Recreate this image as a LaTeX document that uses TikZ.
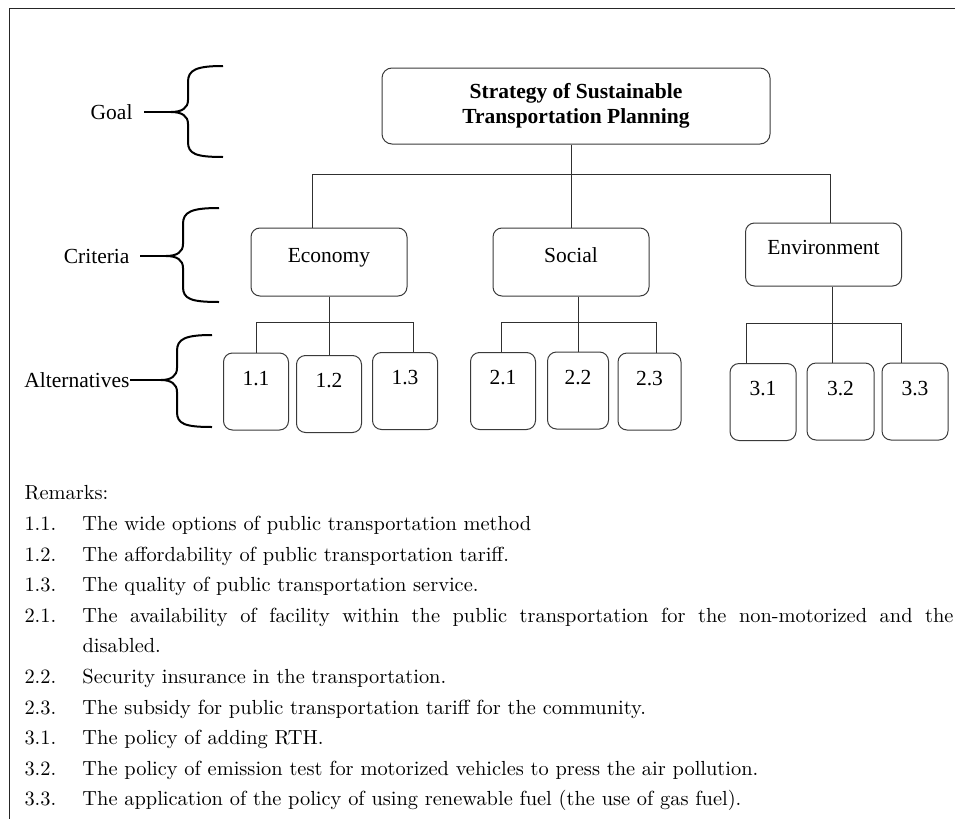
\documentclass[tikz,border=0pt]{standalone}
\usepackage{fontspec}
\newfontfamily\labelfont{Liberation Serif}
\newfontfamily\remarkfont{lmroman10-regular.otf}
\usetikzlibrary{positioning}
\definecolor{cline}{HTML}{303030}
\definecolor{cbox}{HTML}{3A3A3A}
\tikzset{
  every picture/.style={x=1pt, y=-1pt, line width=1pt},
  goalbox/.style={draw=cbox, rounded corners=10pt, align=center, minimum width=388pt, minimum height=76pt, font=\labelfont\bfseries\fontsize{21.5}{25}\selectfont},
  critbox/.style={draw=cbox, rounded corners=9pt, minimum width=156pt, minimum height=#1, text height=14pt, text depth=14pt, font=\labelfont\fontsize{21.5}{25}\selectfont},
  critbox/.default=68pt,
  altbox/.style={draw=cbox, rounded corners=9pt, inner sep=0pt, minimum width=65pt, minimum height=77pt, text height=14pt, text depth=27pt, font=\labelfont\fontsize{21.5}{25}\selectfont},
  level/.style={anchor=east, inner sep=0pt, font=\labelfont\fontsize{21.5}{25}\selectfont},
  link/.style={draw=cline, line width=1pt},
  pointer/.style={draw=black, line width=1.8pt},
  brace/.style={draw=black, line width=2pt},
  frame/.style={draw=black!85, line width=1.5pt},
  remark/.style={anchor=north west, inner sep=0pt, font=\remarkfont\fontsize{20.4}{30.6}\selectfont},
}

\begin{document}
\begin{tikzpicture}
  \useasboundingbox (0,0) rectangle (955,819);
  \draw[frame] (955,8.7) -- (9.5,8.7) -- (9.5,819);
  % levels on the left
  \node[level] (lgoal) at (133,112) {Goal};
  \node[level] (lcrit) at (130,256) {Criteria};
  \node[level] (lalt) at (130,380) {Alternatives};
  \coordinate (goaltip) at (171,112);
  \coordinate (crittip) at (166,256);
  \coordinate (alttip) at (161,380);
  \draw[pointer, shorten <=11pt] (lgoal.east) -- (goaltip);
  \draw[pointer, shorten <=10pt] (lcrit.east) -- (crittip);
  \draw[pointer] (lalt.east) -- (alttip);
  \draw[brace] (223,66) .. controls (196,66) and (188,70) .. (188,82) -- (188,100) .. controls (188,108) and (182,112) .. (goaltip) .. controls (182,112) and (188,116) .. (188,124) -- (188,142) .. controls (188,154) and (196,157) .. (223,157);
  \draw[brace] (219,208) .. controls (191,208) and (183,212) .. (183,224) -- (183,244) .. controls (183,252) and (177,256) .. (crittip) .. controls (177,256) and (183,260) .. (183,268) -- (183,287) .. controls (183,299) and (191,302) .. (219,302);
  \draw[brace] (212,335) .. controls (185,335) and (177,339) .. (177,351) -- (177,368) .. controls (177,376) and (171,380) .. (alttip) .. controls (171,380) and (177,384) .. (177,392) -- (177,412) .. controls (177,424) and (185,427) .. (212,427);
  % goal and criteria
  \node[goalbox] (goal) at (576,106) {Strategy of Sustainable\\Transportation Planning};
  \node[critbox] (eco) at (329,262) {Economy};
  \node[critbox] (soc) at (571,262) {Social};
  \node[critbox=63pt] (env) at (823.5,254.5) {Environment};
  \draw[link] ([xshift=-5pt]goal.south) -- ++(0,30) coordinate (topbar);
  \draw[link] ([xshift=-17pt]eco.north) |- (topbar) -| ([xshift=6.5pt]env.north);
  \draw[link] (topbar) -- (soc.north);
  % alternatives
  \node[altbox] (a11) at (256,391.5) {1.1};
  \node[altbox] (a12) at (329,394) {1.2};
  \node[altbox] (a13) at (405,391) {1.3};
  \node[altbox] (a21) at (503,391) {2.1};
  \node[altbox, minimum width=61pt] (a22) at (578,390.5) {2.2};
  \node[altbox, minimum width=63pt] (a23) at (649.5,391.5) {2.3};
  \node[altbox, minimum width=66pt] (a31) at (763,402) {3.1};
  \node[altbox, minimum width=67pt] (a32) at (840.5,401.5) {3.2};
  \node[altbox, minimum width=66pt] (a33) at (915,401.5) {3.3};
  \draw[link] (eco.south) -- ++(0,26) coordinate (ecobar);
  \draw[link] (a11.north) |- (ecobar) -| ([xshift=8pt]a13.north);
  \draw[link] (ecobar) -- (a12.north);
  \draw[link] (soc.south -| a22) -- ++(0,26) coordinate (socbar);
  \draw[link] ([xshift=-2pt]a21.north) |- (socbar) -| ([xshift=6.5pt]a23.north);
  \draw[link] (socbar) -- (a22.north);
  \draw[link] ([xshift=8.5pt]env.south) -- ++(0,37) coordinate (envbar);
  \draw[link] ([xshift=-17pt]a31.north) |- (envbar) -| ([xshift=-14pt]a33.north);
  \draw[link] (envbar) -- ([xshift=-8.5pt]a32.north);
  % remarks
  \node[remark] (remarks) at (24,478) {%
    \begin{tabular}{@{}p{58pt}@{}p{871pt}@{}}
      \multicolumn{2}{@{}l@{}}{Remarks:}\\
      1.1. & The wide options of public transportation method\\
      1.2. & The affordability of public transportation tariff.\\
      1.3. & The quality of public transportation service.\\
      2.1. & The availability of facility within the public transportation for the non-motorized and the \linebreak disabled.\\
      2.2. & Security insurance in the transportation.\\
      2.3. & The subsidy for public transportation tariff for the community.\\
      3.1. & The policy of adding RTH.\\
      3.2. & The policy of emission test for motorized vehicles to press the air pollution.\\
      3.3. & The application of the policy of using renewable fuel (the use of gas fuel).
    \end{tabular}};
\end{tikzpicture}
\end{document}
